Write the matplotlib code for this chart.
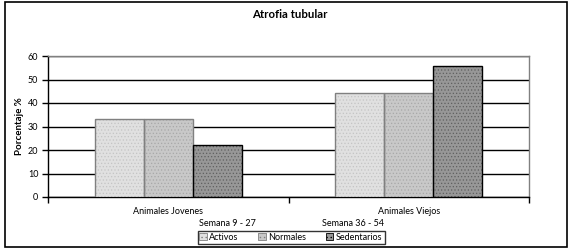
import matplotlib
matplotlib.use("Agg")
import matplotlib.pyplot as plt
from matplotlib.patches import Rectangle
import numpy as np

plt.rcParams['font.family'] = ['Lato', 'DejaVu Sans']

categories = ["Animales Jovenes", "Animales Viejos"]
sublabels = ["Semana 9 - 27", "Semana 36 - 54"]
series = ["Activos", "Normales", "Sedentarios"]
activos = [33.3, 44.4]
normales = [33.3, 44.4]
sedentarios = [22.2, 55.6]
yticks = [0, 10, 20, 30, 40, 50, 60]

values = [activos, normales, sedentarios]
faces = ["#e0e0e0", "#c8c8c8", "#979797"]
hatchc = ["#c4c4c4", "#a8a8a8", "#606060"]
edges = ["#808080", "#808080", "#000000"]

W, H = 574, 252
fig = plt.figure(figsize=(W/100, H/100), dpi=100)
ax = fig.add_axes([48/W, 1-197/H, (529-48)/W, (197-56)/H])

x = np.arange(len(categories))
bw = 0.204
plt.rcParams['hatch.linewidth'] = 0.5
handles = []
for i, (vals, fc, hc, ec) in enumerate(zip(values, faces, hatchc, edges)):
    pos = x + (i-1)*bw
    ax.bar(pos, vals, bw, color=fc, edgecolor=hc, hatch='.....', linewidth=0, zorder=3)
    ax.bar(pos, vals, bw, facecolor='none', edgecolor=ec, linewidth=1, zorder=4)
    handles.append(Rectangle((0, 0), 1, 1, facecolor=fc, edgecolor=ec, hatch='....', linewidth=0.6))

ax.set_xlim(-0.5, 1.5)
ax.set_ylim(0, 60)
ax.set_yticks(yticks)
ax.yaxis.grid(True, color='black', linewidth=1, zorder=0)
ax.set_axisbelow(True)
ax.set_xticks([-0.5, 0.5, 1.5])
ax.set_xticklabels([])
ax.tick_params(axis='x', direction='out', length=4, width=1, color='black')
ax.tick_params(axis='y', direction='out', length=4, width=1, color='black', labelsize=6.5, pad=3)
for s in ['top', 'right']:
    ax.spines[s].set_color('#808080')
    ax.spines[s].set_linewidth(1)
for s in ['left', 'bottom']:
    ax.spines[s].set_color('black')
    ax.spines[s].set_linewidth(1)

for xi, lab in zip(x, categories):
    ax.text(xi, -0.105, lab, transform=ax.get_xaxis_transform(), ha='center', va='center', fontsize=6.5)

fig.text(227/W, 1-224/H, sublabels[0], ha='center', va='center', fontsize=6.5)
fig.text(353/W, 1-224/H, sublabels[1], ha='center', va='center', fontsize=6.5)

ax.set_ylabel("Porcentaje %", fontsize=7, fontweight='bold', labelpad=3)
fig.text(290/W, 1-14/H, "Atrofia tubular", ha='center', va='center', fontsize=8.2, fontweight='bold')

leg = fig.legend(handles, series, loc='center', bbox_to_anchor=(291/W, 1-237.5/H),
                 ncol=3, fontsize=6.5, frameon=True, fancybox=False, edgecolor='black',
                 handlelength=0.8, handleheight=0.8, handletextpad=0.3, columnspacing=2.2,
                 borderpad=0.2, borderaxespad=0)
leg.get_frame().set_linewidth(1)

fig.add_artist(Rectangle((5/W, 5/H), 562/W, 245/H, transform=fig.transFigure,
                         fill=False, edgecolor='black', linewidth=1.2))

fig.savefig("out.png", dpi=100)
